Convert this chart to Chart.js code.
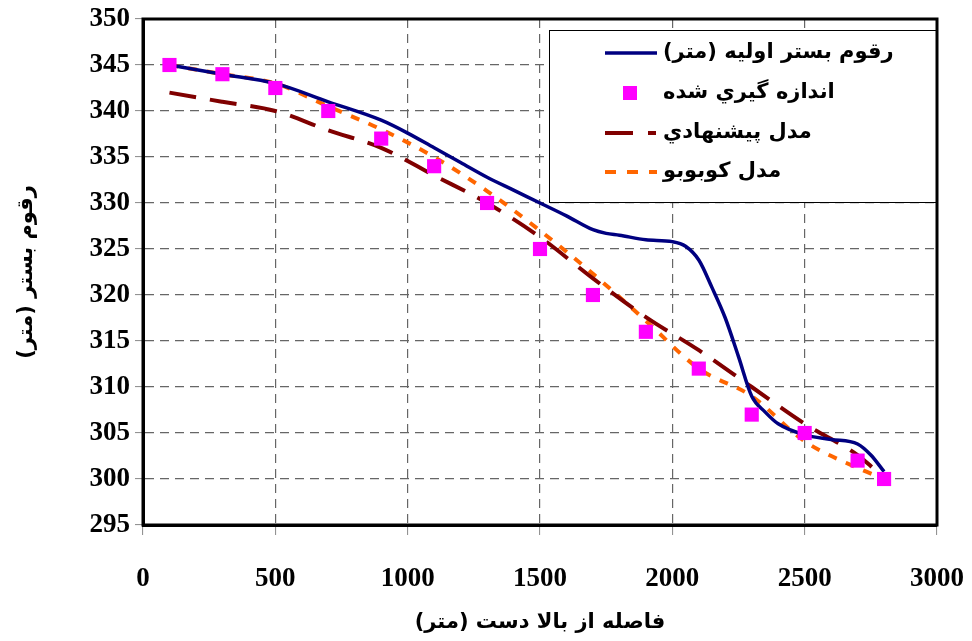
<!DOCTYPE html>
<html>
<head>
<meta charset="utf-8">
<script src="https://cdn.jsdelivr.net/npm/chart.js@4.4.1/dist/chart.umd.min.js"></script>
<style>
  html, body { margin: 0; padding: 0; background: #fff; }
  #wrap { width: 972px; height: 641px; }
</style>
</head>
<body>
<div id="wrap"><canvas id="c" dir="rtl" width="972" height="641"></canvas></div>
<script>
'use strict';

// values
const initialX  = [100, 300, 500, 700, 900, 1000, 1100, 1200, 1300, 1400, 1500, 1600, 1700, 1750, 1800, 1900, 2000, 2050, 2100, 2150, 2200, 2250, 2300, 2350, 2400, 2500, 2600, 2700, 2750, 2800];
const initialY  = [345, 344, 343, 341, 339, 337.6, 336, 334.4, 332.8, 331.4, 330, 328.6, 327.1, 326.7, 326.5, 326, 325.8, 325.3, 323.8, 320.8, 317.5, 313.3, 309, 307.3, 306, 304.8, 304.3, 303.8, 302.6, 300.8];
const measuredX = [100, 300, 500, 700, 900, 1100, 1300, 1500, 1700, 1900, 2100, 2300, 2500, 2700, 2800];
const measuredY = [345, 344, 342.5, 340, 337, 334, 330, 325, 320, 316, 312, 307, 305, 302, 300];
const proposedX = [100, 300, 500, 700, 900, 1100, 1300, 1500, 1700, 1900, 2100, 2300, 2500, 2700, 2770];
const proposedY = [342, 341, 340, 337.9, 336, 333, 330, 326.3, 321.8, 317.6, 314, 310, 306, 302.6, 300.9];
const kobovoX   = [100, 300, 500, 700, 900, 1100, 1300, 1500, 1700, 1900, 2100, 2300, 2500, 2700, 2800];
const kobovoY   = [345, 344, 343, 340.5, 338, 335, 331.3, 327, 322.3, 317.2, 312, 309, 304.1, 301.2, 300];

const seriesNames = ['رقوم بستر اوليه (متر)', 'اندازه گيري شده', 'مدل پيشنهادي', 'مدل كوبوبو'];
const xTicks = [0, 500, 1000, 1500, 2000, 2500, 3000];
const yTicks = [295, 300, 305, 310, 315, 320, 325, 330, 335, 340, 345, 350];

const pts = (xs, ys) => xs.map((x, i) => ({ x, y: ys[i] }));

const NAVY = '#000080', MAGENTA = '#FF00FF', MAROON = '#800000', ORANGE = '#FF6600';
const LABEL_FONT = { family: 'Liberation Serif', size: 27, weight: 'bold' };
const TITLE_FONT = { family: 'DejaVu Sans', size: 21, weight: 'bold' };

// Excel-like legend box sitting inside the plot, top right
const legendBox = {
  id: 'legendBox',
  afterDatasetsDraw(chart) {
    const ctx = chart.ctx;
    const a = chart.chartArea;
    const box = { l: 549, t: 30, r: a.right, b: 202 };
    ctx.save();
    ctx.fillStyle = '#fff';
    ctx.fillRect(box.l, box.t, box.r - box.l, box.b - box.t);
    ctx.strokeStyle = '#000';
    ctx.lineWidth = 1;
    ctx.strokeRect(box.l + 0.5, box.t + 0.5, box.r - box.l, box.b - box.t);

    const rows = [53, 93, 133, 172];
    const sx0 = 605, sx1 = 657, tx = 663;
    rows.forEach((y, i) => {
      ctx.setLineDash([]);
      if (i === 0) {
        ctx.strokeStyle = NAVY; ctx.lineWidth = 3.5;
        ctx.beginPath(); ctx.moveTo(sx0, y); ctx.lineTo(sx1, y); ctx.stroke();
      } else if (i === 1) {
        ctx.fillStyle = MAGENTA;
        ctx.fillRect(623, y - 7, 14, 14);
      } else if (i === 2) {
        ctx.strokeStyle = MAROON; ctx.lineWidth = 4; ctx.setLineDash([28, 15]);
        ctx.beginPath(); ctx.moveTo(sx0, y); ctx.lineTo(sx1 - 1, y); ctx.stroke();
      } else {
        ctx.strokeStyle = ORANGE; ctx.lineWidth = 4; ctx.setLineDash([11, 11]);
        ctx.beginPath(); ctx.moveTo(sx0, y); ctx.lineTo(sx1, y); ctx.stroke();
      }
      ctx.setLineDash([]);
      ctx.fillStyle = '#000';
      ctx.font = 'bold 21px "DejaVu Sans"';
      ctx.direction = 'rtl';
      ctx.textAlign = 'left';
      ctx.textBaseline = 'middle';
      ctx.fillText(seriesNames[i], tx, y);
    });
    ctx.restore();
  },
  afterDraw(chart) {
    // heavy frame round the plot area
    const ctx = chart.ctx, a = chart.chartArea;
    ctx.save();
    ctx.strokeStyle = '#000';
    ctx.lineWidth = 3;
    ctx.strokeRect(a.left, a.top, a.right - a.left, a.bottom - a.top);
    ctx.restore();
  }
};

new Chart(document.getElementById('c'), {
  type: 'scatter',
  data: {
    datasets: [
      { label: seriesNames[0], data: pts(initialX, initialY), showLine: true, borderColor: NAVY, borderWidth: 3.5,
        pointRadius: 0, cubicInterpolationMode: 'monotone', order: 1 },
      { label: seriesNames[1], data: pts(measuredX, measuredY), showLine: false, pointStyle: 'rect',
        pointRadius: 10, backgroundColor: MAGENTA, borderColor: MAGENTA, borderWidth: 0, order: 0 },
      { label: seriesNames[2], data: pts(proposedX, proposedY), showLine: true, borderColor: MAROON, borderWidth: 4,
        borderDash: [27, 14], pointRadius: 0, cubicInterpolationMode: 'monotone', order: 2 },
      { label: seriesNames[3], data: pts(kobovoX, kobovoY), showLine: true, borderColor: ORANGE, borderWidth: 4,
        borderDash: [9, 10], pointRadius: 0, cubicInterpolationMode: 'monotone', order: 3 }
    ]
  },
  options: {
    responsive: false,
    animation: false,
    layout: { padding: { left: 0, right: 35, top: 19, bottom: 0 } },
    plugins: { legend: { display: false }, tooltip: { enabled: false } },
    scales: {
      x: {
        type: 'linear', min: 0, max: 3000,
        afterBuildTicks: s => { s.ticks = xTicks.map(v => ({ value: v })); },
        afterFit: s => { s.height = 116; s.paddingLeft = 0; s.paddingRight = 0; },
        grid: { color: '#666', lineWidth: 1.2, tickLength: 10, tickColor: '#888', tickWidth: 1, tickBorderDash: [] },
        border: { display: true, color: '#000', width: 3, dash: [9, 6] },
        ticks: { color: '#000', font: LABEL_FONT, padding: 28, maxRotation: 0, callback: v => String(v) },
        title: { display: true, text: 'فاصله از بالا دست (متر)', color: '#000', font: TITLE_FONT, padding: { top: 4, bottom: 6 } }
      },
      y: {
        type: 'linear', min: 295, max: 350,
        afterBuildTicks: s => { s.ticks = yTicks.map(v => ({ value: v })); },
        afterFit: s => { s.width = 143; s.paddingTop = 0; s.paddingBottom = 0; },
        grid: { color: '#666', lineWidth: 1.2, tickLength: 8, tickColor: '#888', tickWidth: 1, tickBorderDash: [] },
        border: { display: true, color: '#000', width: 3, dash: [9, 6] },
        ticks: { color: '#000', font: LABEL_FONT, padding: 5, callback: v => String(v) },
        title: { display: true, text: 'رقوم بستر (متر)', color: '#000', font: TITLE_FONT, padding: { top: 14, bottom: 0 } }
      }
    }
  },
  plugins: [legendBox]
});
</script>
</body>
</html>
